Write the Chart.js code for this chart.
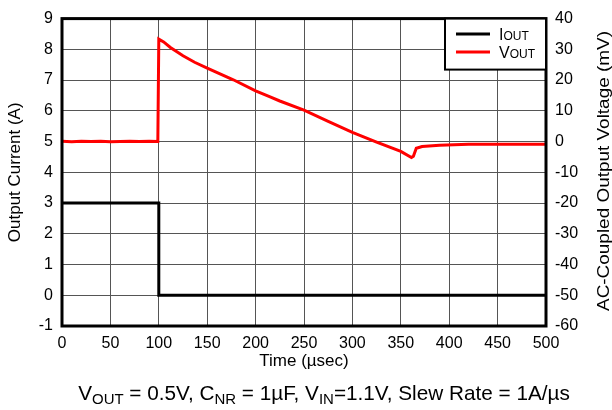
<!DOCTYPE html>
<html>
<head>
<meta charset="utf-8">
<script src="https://cdn.jsdelivr.net/npm/chart.js@4/dist/chart.umd.min.js"></script>
<style>
  html, body { margin: 0; padding: 0; background: #fff; }
</style>
</head>
<body>
<canvas id="chart" width="612" height="410"></canvas>
<script>
// Data read from the scope capture
const timeI = [0, 100, 100, 500];                 // µs
const currentA = [3, 3, 0, 0];                     // A

const timeV = [0, 10, 20, 30, 40, 50, 60, 70, 80, 90, 99, 100, 105, 112, 125, 137, 150, 177, 200, 215, 225, 250, 275, 300, 325, 350, 361, 363, 366, 372, 390, 420, 460, 500];
const voltageMV = [0.1, -0.1, 0.1, 0, 0.1, -0.1, 0, 0.1, 0, 0.1, 0, 33.3, 32.4, 30.6, 27.9, 25.8, 23.9, 20.1, 16.5, 14.5, 13.2, 10.2, 6.6, 3.0, -0.2, -3.2, -5.2, -4.8, -2.2, -1.6, -1.2, -0.9, -0.9, -0.9];

const xTicks = { min: 0, max: 500, step: 50 };
const leftTicks = { min: -1, max: 9, step: 1 };
const rightTicks = { min: -60, max: 40, step: 10 };

const FONT = '"Liberation Sans", Arial, sans-serif';

const toPoints = (xs, ys) => xs.map((x, i) => ({ x: x, y: ys[i] }));

// draws text with subscript parts: [[text, isSub], ...]
function drawRich(ctx, parts, x, y, size, subSize, subDrop) {
    let cx = x;
    parts.forEach(([txt, sub]) => {
        ctx.font = (sub ? subSize : size) + 'px ' + FONT;
        ctx.fillText(txt, cx, sub ? y + subDrop : y);
        cx += ctx.measureText(txt).width;
    });
    return cx - x;
}
function richWidth(ctx, parts, size, subSize) {
    let w = 0;
    parts.forEach(([txt, sub]) => {
        ctx.font = (sub ? subSize : size) + 'px ' + FONT;
        w += ctx.measureText(txt).width;
    });
    return w;
}

const extras = {
    id: 'extras',
    afterDraw(chart) {
        const ctx = chart.ctx;
        const a = chart.chartArea;
        ctx.save();

        // plot frame
        ctx.strokeStyle = '#000';
        ctx.lineWidth = 3;
        ctx.strokeRect(a.left, a.top, a.right - a.left, a.bottom - a.top);

        // legend box
        const lx = 445, ly = a.top, lw = a.right - 445, lh = 51;
        ctx.fillStyle = '#fff';
        ctx.fillRect(lx, ly, lw, lh);
        ctx.lineWidth = 2;
        ctx.strokeRect(lx, ly, lw, lh);
        const items = [
            { color: '#000', y: 34, parts: [['I', false], ['OUT', true]] },
            { color: '#ff0000', y: 52, parts: [['V', false], ['OUT', true]] }
        ];
        items.forEach(it => {
            ctx.strokeStyle = it.color;
            ctx.lineWidth = 3;
            ctx.beginPath();
            ctx.moveTo(456, it.y);
            ctx.lineTo(490, it.y);
            ctx.stroke();
            ctx.fillStyle = '#000';
            ctx.textBaseline = 'alphabetic';
            ctx.textAlign = 'left';
            drawRich(ctx, it.parts, 499, it.y + 6, 16, 12, 0);
        });

        // right axis title, reading bottom-to-top
        ctx.translate(604, 171);
        ctx.rotate(-Math.PI / 2);
        ctx.font = '17px ' + FONT;
        const t = 'AC-Coupled Output Voltage (mV)';
        const tw = ctx.measureText(t).width;
        ctx.scale(280 / tw, 1);
        ctx.textAlign = 'center';
        ctx.textBaseline = 'middle';
        ctx.fillStyle = '#000';
        ctx.fillText(t, 0, 0);
        ctx.setTransform(1, 0, 0, 1, 0, 0);

        // caption under the chart, sized to the reference width
        const cap = [['V', false], ['OUT', true], [' = 0.5V, C', false], ['NR', true],
                     [' = 1\u00b5F, V', false], ['IN', true], ['=1.1V, Slew Rate = 1A/\u00b5s', false]];
        const w0 = richWidth(ctx, cap, 18, 13);
        const k = 492 / w0;
        const size = 18 * k, subSize = 13 * k;
        const w = richWidth(ctx, cap, size, subSize);
        ctx.textAlign = 'left';
        ctx.textBaseline = 'alphabetic';
        drawRich(ctx, cap, 324 - w / 2, 400, size, subSize, 4);

        ctx.restore();
    }
};

const tickFont = { family: FONT, size: 16 };
const titleFont = { family: FONT, size: 17 };

new Chart(document.getElementById('chart'), {
    type: 'scatter',
    data: {
        datasets: [
            {
                label: 'VOUT',
                data: toPoints(timeV, voltageMV),
                yAxisID: 'y2',
                showLine: true,
                borderColor: '#ff0000',
                borderWidth: 3,
                pointRadius: 0,
                tension: 0
            },
            {
                label: 'IOUT',
                data: toPoints(timeI, currentA),
                yAxisID: 'y',
                showLine: true,
                borderColor: '#000',
                borderWidth: 3,
                pointRadius: 0,
                tension: 0
            }
        ]
    },
    options: {
        responsive: false,
        animation: false,
        devicePixelRatio: 1,
        layout: { padding: { top: 16, left: 0, right: 0, bottom: 34 } },
        plugins: { legend: { display: false }, tooltip: { enabled: false } },
        scales: {
            x: {
                type: 'linear',
                min: xTicks.min,
                max: xTicks.max,
                ticks: { stepSize: xTicks.step, color: '#000', font: tickFont, padding: 8, maxRotation: 0 },
                grid: { color: '#555', lineWidth: 1, drawTicks: false },
                border: { display: false },
                title: { display: true, text: 'Time (\u00b5sec)', color: '#000', font: titleFont, padding: { top: 0, bottom: 4 } },
                afterFit(s) { s.height = 50; }
            },
            y: {
                position: 'left',
                min: leftTicks.min,
                max: leftTicks.max,
                ticks: { stepSize: leftTicks.step, color: '#000', font: tickFont, padding: 9 },
                grid: { color: '#555', lineWidth: 1, drawTicks: false },
                border: { display: false },
                title: { display: true, text: 'Output Current (A)', color: '#000', font: titleFont, padding: { top: 5, bottom: 0 } },
                afterFit(s) { s.width = 62; }
            },
            y2: {
                position: 'right',
                min: rightTicks.min,
                max: rightTicks.max,
                ticks: { stepSize: rightTicks.step, color: '#000', font: tickFont, padding: 9 },
                grid: { display: false, drawTicks: false },
                border: { display: false },
                afterFit(s) { s.width = 66; }
            }
        }
    },
    plugins: [extras]
});
</script>
</body>
</html>
